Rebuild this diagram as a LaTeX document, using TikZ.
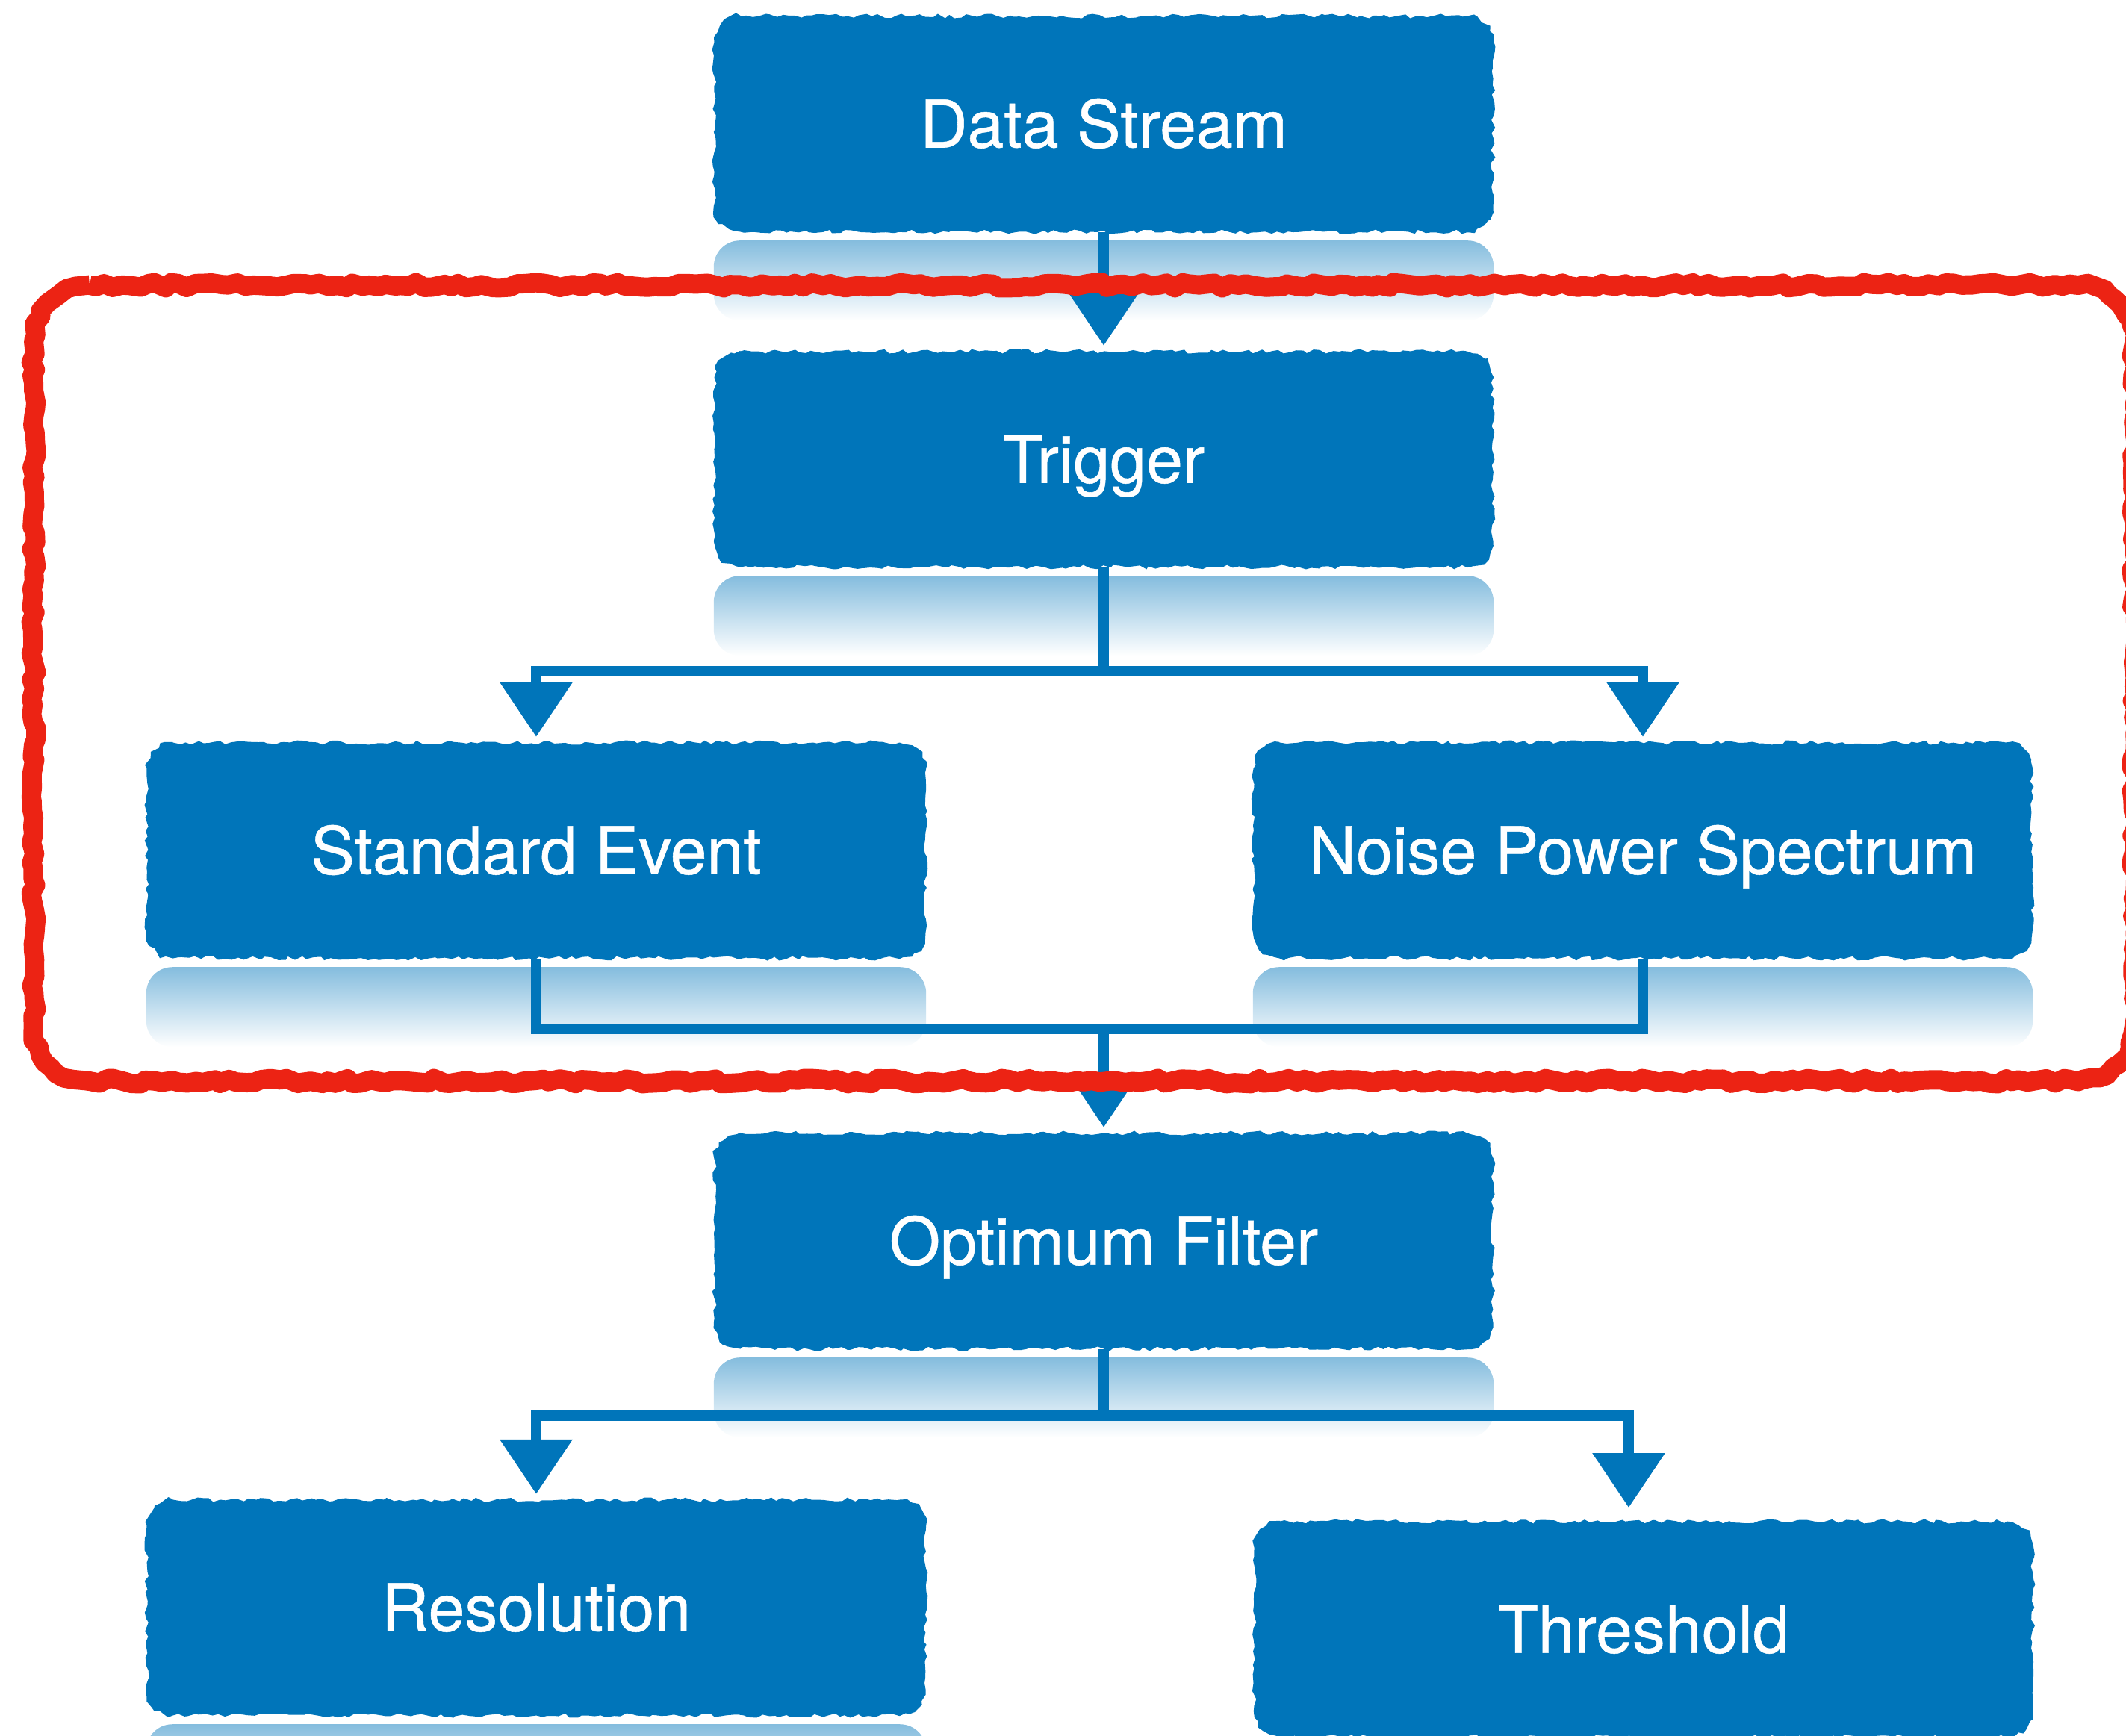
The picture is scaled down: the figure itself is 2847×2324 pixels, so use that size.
\documentclass[tikz,border=0pt]{standalone}
\usepackage{fontspec}
\setmainfont{TeX Gyre Heros}
\newfontfamily\boxfont[FakeBold=0.6]{TeX Gyre Heros}
\usetikzlibrary{arrows.meta,decorations.pathmorphing,calc}
\definecolor{boxblue}{RGB}{0,117,186}
\definecolor{framered}{RGB}{236,35,20}
\tikzset{
  boxtext/.style={text=white, minimum width=104.3mm, minimum height=28.9mm,
    inner sep=0pt, text height=6.3mm, text depth=0pt,
    font=\boxfont\fontsize{25}{30}\selectfont},
  boxfill/.style={fill=boxblue, decorate,
    decoration={random steps, segment length=0.8mm, amplitude=0.3mm}},
  conn/.style={draw=boxblue, line width=1.35mm},
  arr/.style={-{Triangle[width=9.4mm,length=7.3mm]}, shorten >=0.7mm},
  refl/.style={top color=boxblue!48!white, bottom color=white},
  redframe/.style={draw=framered, line width=2.6mm, line join=round,
    decorate, decoration={random steps, segment length=1.1mm, amplitude=0.35mm}},
}
% rounded rectangle path from (x1,y1) top-left to (x2,y2) bottom-right, radius r (units of 0.1mm)
\newcommand\roundrect[6]{%
  \path[#6] (#1+#5,#2) -- (#3-#5,#2)
    arc[start angle=90,end angle=0,radius=#5*0.1mm] -- (#3,#4-#5)
    arc[start angle=0,end angle=-90,radius=#5*0.1mm] -- (#1+#5,#4)
    arc[start angle=270,end angle=180,radius=#5*0.1mm] -- (#1,#2+#5)
    arc[start angle=180,end angle=90,radius=#5*0.1mm] -- cycle;}
% box centred at (x,y): rough fill then named text node
\newcommand\flowbox[4]{%
  \roundrect{#2-521.5}{#3-144.5}{#2+521.5}{#3+144.5}{35}{boxfill}
  \node[boxtext] (#1) at (#2,#3) {#4};}
\newcommand\boxreflection[1]{%
  \shade[refl, rounded corners=3.5mm] ($(#1.south west)+(0,11)$) rectangle ($(#1.south east)+(0,118)$);}
\begin{document}
\begin{tikzpicture}[x=0.1mm, y=-0.1mm]
\pgfmathsetseed{7}
\path[use as bounding box] (0,0) rectangle (2847,2324);
\clip (0,0) rectangle (2847,2324);

% boxes
\flowbox{ds}{1478}{166}{Data Stream}
\flowbox{trig}{1478}{615}{Trigger}
\flowbox{se}{718}{1139}{Standard Event}
\flowbox{nps}{2200}{1139}{Noise Power Spectrum}
\flowbox{of}{1478}{1662}{Optimum Filter}
\flowbox{res}{718}{2153}{Resolution}
\flowbox{thr}{2201}{2182}{Threshold}

% reflections
\boxreflection{ds}
\boxreflection{trig}
\boxreflection{se}
\boxreflection{nps}
\boxreflection{of}
\boxreflection{res}

% junctions
\coordinate (j1) at (1478,899);
\coordinate (j2) at (1478,1378);
\coordinate (j3) at (1478,1896);
\coordinate (thrin) at (2181,2037);

% connectors
\draw[conn,arr] (ds) -- (trig);
\draw[conn] (trig) -- (j1);
\draw[conn,arr] (j1) -| (se);
\draw[conn,arr] (j1) -| (nps);
\draw[conn] (se) |- (j2) -| (nps);
\draw[conn,arr] (j2) -- (of);
\draw[conn] (of) -- (j3);
\draw[conn,arr] (j3) -| (res);
\draw[conn,arr,shorten >=1.8mm] (j3) -| (thrin);

% red frame
\roundrect{45}{382}{2858}{1448}{75}{redframe}
\end{tikzpicture}
\end{document}
